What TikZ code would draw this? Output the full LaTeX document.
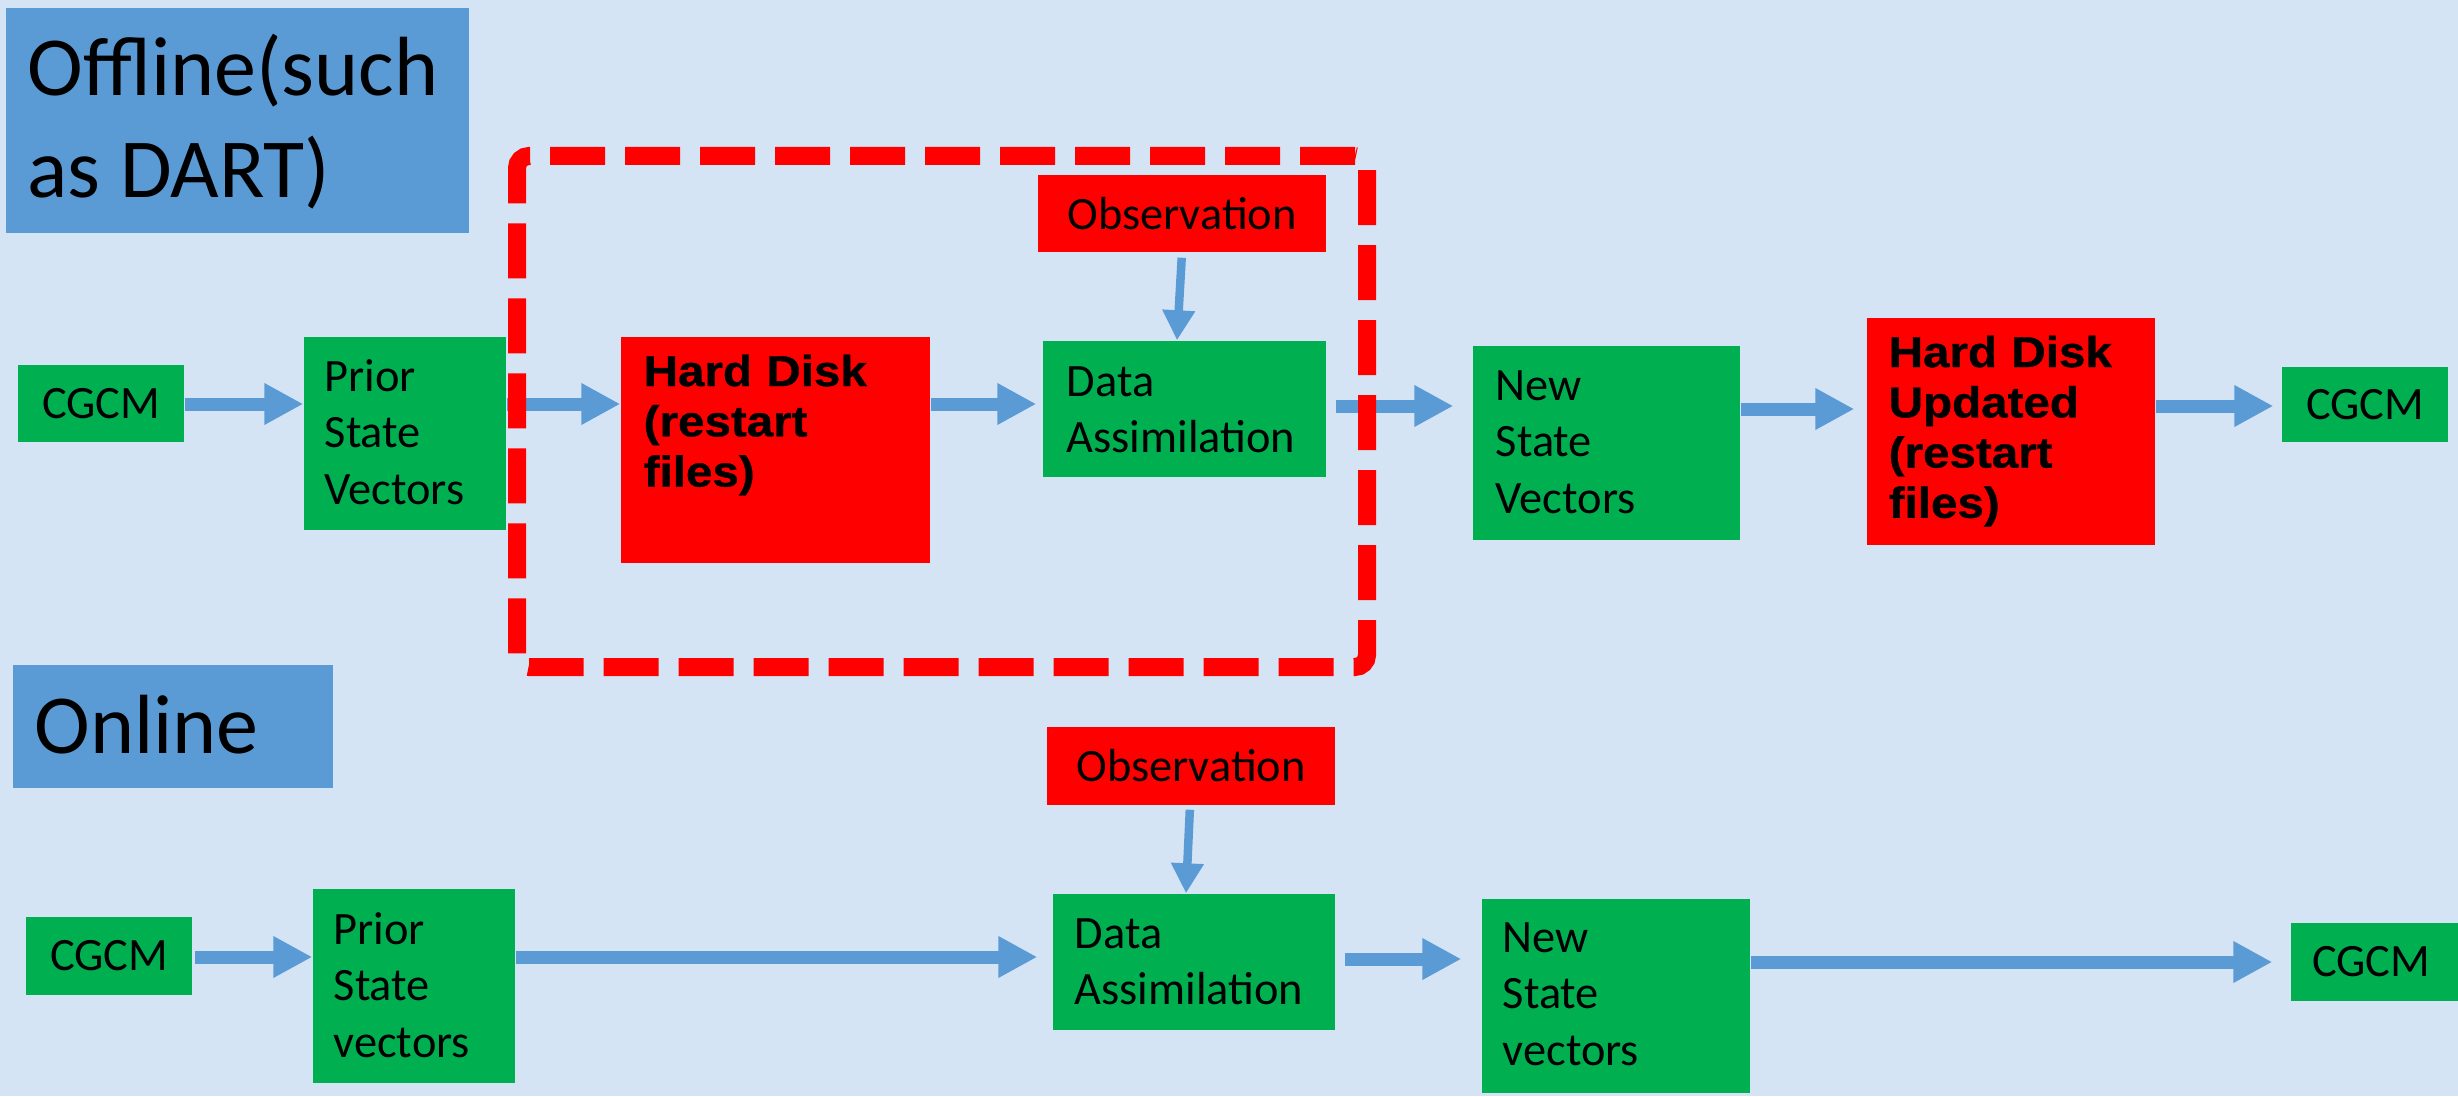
\documentclass[tikz,border=0pt]{standalone}
\usepackage{fontspec}
\setmainfont{Carlito}
\newfontfamily\hdfont[FakeStretch=1.1,FakeBold=0.8]{Liberation Sans Bold}
\usetikzlibrary{arrows.meta,fit,calc}
\definecolor{bgblue}{RGB}{212,228,245}
\definecolor{boxgreen}{RGB}{0,176,80}
\definecolor{boxred}{RGB}{255,0,0}
\definecolor{lblblue}{RGB}{91,155,213}
\definecolor{arrblue}{RGB}{91,155,213}
\newcommand\normtxt{\fontsize{13.2}{16.2}\selectfont}
\newcommand\hdtxtfont{\hdfont\fontsize{12.3}{14.3}\selectfont}
\newcommand\bigtxtfont{\fontsize{23.9}{29}\selectfont}
\tikzset{
  gbox/.style={fill=boxgreen, inner sep=0, draw=none},
  rbox/.style={fill=boxred, inner sep=0, draw=none},
  lbox/.style={fill=lblblue, inner sep=0, draw=none},
  ctxt/.style={inner sep=0, anchor=center, font=\normtxt},
  txt/.style={inner sep=0, anchor=base west, align=left, text width=30mm, font=\normtxt},
  hdtxt/.style={txt, font=\hdtxtfont},
  bigtxt/.style={txt, text width=45mm, font=\bigtxtfont},
  barrow/.style={draw=arrblue, line width=1.3mm, -{Triangle[width=3.9mm,length=3.9mm]}},
  tarrow/.style={draw=arrblue, line width=0.85mm, -{Triangle[width=3.1mm,length=3.0mm]}},
  frame/.style={draw=boxred, line width=1.8mm, dash pattern=on 5.5mm off 2mm, rounded corners=1.2mm, inner sep=0},
}
\begin{document}
\begin{tikzpicture}[x=0.1mm, y=-0.1mm]
\fill[bgblue] (0,0) rectangle (2458,1096);
\useasboundingbox (0,0) rectangle (2458,1096);

% labels
\node[lbox, fit={(6,8) (469,233)}] (offbox) {};
\node[bigtxt] (offtxt) at (27,96) {Offline(such\\as\hspace{0.23em}DART)};
\node[lbox, fit={(13,665) (333,788)}] (onbox) {};
\node[bigtxt] (ontxt) at (34,753) {Online};

% offline row
\node[rbox, fit={(1038,175) (1326,252)}] (obs1) {};
\node[ctxt] (obs1t) at (obs1.center) {Observation};
\node[gbox, fit={(18,365) (184,442)}] (cgcm1) {};
\node[ctxt] (cgcm1t) at (cgcm1.center) {CGCM};
\node[gbox, fit={(304,337) (506,530)}] (prior1) {};
\node[txt] (prior1t) at (324,391) {Prior\\State\\Vectors};
\node[rbox, fit={(621,337) (930,563)}] (hd) {};
\node[hdtxt] (hdt) at (643,386) {Hard Disk\\(restart\\files)};
\node[gbox, fit={(1043,341) (1326,477)}] (da1) {};
\node[txt] (da1t) at (1066,396) {Data\\Assimilation};
\node[gbox, fit={(1473,346) (1740,540)}] (ns1) {};
\node[txt] (ns1t) at (1495,400) {New\\State\\Vectors};
\node[rbox, fit={(1867,318) (2155,545)}] (hdu) {};
\node[hdtxt] (hdut) at (1888,367) {Hard Disk\\Updated\\(restart\\files)};
\node[gbox, fit={(2282,367) (2448,442)}] (cgcm2) {};
\node[ctxt] (cgcm2t) at (cgcm2.center) {CGCM};

% online row
\node[rbox, fit={(1047,727) (1335,805)}] (obs2) {};
\node[ctxt] (obs2t) at (obs2.center) {Observation};
\node[gbox, fit={(26,917) (192,995)}] (cgcm3) {};
\node[ctxt] (cgcm3t) at (cgcm3.center) {CGCM};
\node[gbox, fit={(313,889) (515,1083)}] (prior2) {};
\node[txt] (prior2t) at (333,944) {Prior\\State\\vectors};
\node[gbox, fit={(1053,894) (1335,1030)}] (da2) {};
\node[txt] (da2t) at (1074,948) {Data\\Assimilation};
\node[gbox, fit={(1482,899) (1750,1093)}] (ns2) {};
\node[txt] (ns2t) at (1502,952) {New\\State\\vectors};
\node[gbox, fit={(2291,923) (2458,1001)}] (cgcm4) {};
\node[ctxt] (cgcm4t) at (2371,962) {CGCM};

% arrows offline
\draw[barrow] (cgcm1.east |- 0,404) -- (prior1.west |- 0,404);
\draw[barrow] (prior1.east |- 0,404) -- (hd.west |- 0,404);
\draw[barrow, shorten >=0.6mm] (hd.east |- 0,404) -- (da1.west |- 0,404);
\draw[barrow, shorten <=0.9mm, shorten >=1.9mm] (da1.east |- 0,406) -- (ns1.west |- 0,406);
\draw[barrow, shorten >=1.2mm] (ns1.east |- 0,409) -- (hdu.west |- 0,409);
\draw[barrow, shorten >=0.8mm] (hdu.east |- 0,406) -- (cgcm2.west |- 0,406);
\draw[tarrow, shorten <=0.5mm] (obs1.south -| 1182,0) -- (da1.north -| 1177,0);

% arrows online
\draw[barrow, shorten <=0.2mm] (cgcm3.east |- 0,957) -- (prior2.west |- 0,957);
\draw[barrow, shorten >=1.5mm] (prior2.east |- 0,957) -- (da2.west |- 0,957);
\draw[barrow, shorten <=0.9mm, shorten >=2mm] (da2.east |- 0,959) -- (ns2.west |- 0,959);
\draw[barrow, shorten >=1.8mm] (ns2.east |- 0,962) -- (cgcm4.west |- 0,962);
\draw[tarrow, shorten <=0.4mm] (obs2.south -| 1190,0) -- (da2.north -| 1186,0);

% dashed frame
\node[frame, fit={(517,156) (1367,667)}] (dashframe) {};
\end{tikzpicture}
\end{document}
